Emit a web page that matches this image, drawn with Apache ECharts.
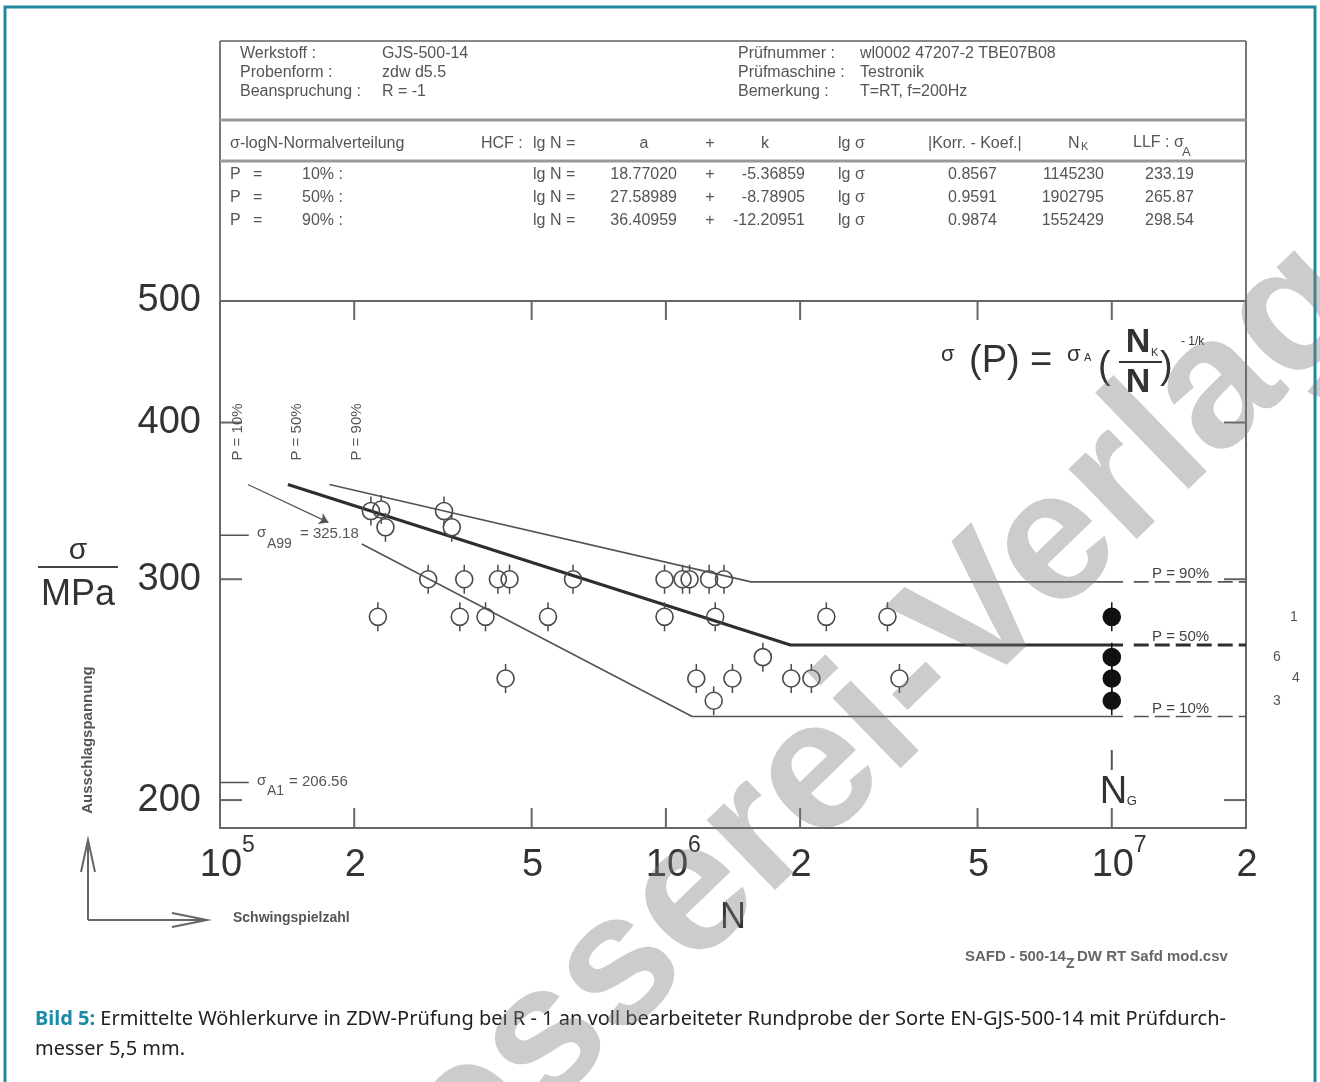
<!DOCTYPE html>
<html><head><meta charset="utf-8">
<script src="https://cdn.jsdelivr.net/npm/echarts@6/dist/echarts.min.js"></script>
<style>html,body{margin:0;padding:0;background:#fff}#c{width:1320px;height:1082px}</style>
</head><body><div id="c"></div>
<script>
// ---------------- DATA ----------------
const xMin = 1e5, xMax = 2e7;
const yMin = 190, yMax = 500;
const xTickValues = [1e5, 2e5, 5e5, 1e6, 2e6, 5e6, 1e7, 2e7];
const xTickMantissa = ['10', '2', '5', '10', '2', '5', '10', '2'];
const xTickExponent = ['5', '', '', '6', '', '', '7', ''];
const yTickValues = [200, 300, 400, 500];

// fatigue failures (N, stress amplitude MPa)
const failN = [2.18e5, 2.30e5, 3.18e5, 2.35e5, 3.31e5,
  2.93e5, 3.53e5, 4.20e5, 4.46e5, 6.19e5, 9.93e5, 1.09e6, 1.13e6, 1.25e6, 1.35e6,
  2.26e5, 3.45e5, 3.94e5, 5.44e5, 9.93e5, 1.29e6, 2.29e6, 3.14e6,
  1.65e6,
  4.37e5, 1.17e6, 1.41e6, 1.91e6, 2.12e6, 3.34e6,
  1.28e6];
const failS = [340, 341, 340, 330, 330,
  300, 300, 300, 300, 300, 300, 300, 300, 300, 300,
  280, 280, 280, 280, 280, 280, 280, 280,
  260,
  250, 250, 250, 250, 250, 250,
  240];
// run-outs at N_G
const runoutN = [1e7, 1e7, 1e7, 1e7];
const runoutS = [280, 260, 250, 240];
const runoutCounts = ['1', '6', '4', '3'];

// probability lines (table)
const pLevels = ['10%', '50%', '90%'];
const coefA = [18.77020, 27.58989, 36.40959];
const coefK = [-5.36859, -8.78905, -12.20951];
const corrCoef = [0.8567, 0.9591, 0.9874];
const kneeN = [1145230, 1902795, 1552429];
const sigmaA = [233.19, 265.87, 298.54];
const startN = [2.08e5, 1.42e5, 1.76e5];
const startS = [320, 357, 357];
const solidEndN = 1.06e7;
const dashStartN = 1.12e7;

const sigmaA99 = 325.18, sigmaA1 = 206.56;
const annotTickEndN = 1.16e5;
const arrowFrom = [1.155e5, 357];
const arrowTo = [1.75e5, 333];

// header texts
const headLeftLabels = ['Werkstoff :', 'Probenform :', 'Beanspruchung :'];
const headLeftValues = ['GJS-500-14', 'zdw d5.5', 'R = -1'];
const headRightLabels = ['Prüfnummer :', 'Prüfmaschine :', 'Bemerkung :'];
const headRightValues = ['wl0002 47207-2 TBE07B08', 'Testronik', 'T=RT, f=200Hz'];

// ---------------- CHART ----------------
const chart = echarts.init(document.getElementById('c'), null, {renderer: 'canvas'});
const FONT = '"Liberation Sans", Arial, sans-serif';
const f = (s, w) => `${w || 'normal'} ${s}px ${FONT}`;

function marker(filled) {
  return function (params, api) {
    const p = api.coord([api.value(0), api.value(1)]);
    const r = 8.5, col = filled ? '#111' : '#4a4a4a';
    return {type: 'group', children: [
      {type: 'line', shape: {x1: p[0], y1: p[1] - r - 6, x2: p[0], y2: p[1] - r}, style: {stroke: col, lineWidth: 1.5}},
      {type: 'line', shape: {x1: p[0], y1: p[1] + r, x2: p[0], y2: p[1] + r + 6}, style: {stroke: col, lineWidth: 1.5}},
      {type: 'circle', shape: {cx: p[0], cy: p[1], r: r}, style: {fill: filled ? '#111' : 'rgba(255,255,255,0)', stroke: col, lineWidth: 1.6}}
    ]};
  };
}

const series = [];
pLevels.forEach((p, i) => {
  const col = i === 1 ? '#2e2e2e' : '#555';
  const w = i === 1 ? 3.2 : 1.6;
  series.push({type: 'line', silent: true, symbol: 'none', z: 3,
    data: [[startN[i], startS[i]], [kneeN[i], sigmaA[i]], [solidEndN, sigmaA[i]]],
    lineStyle: {color: col, width: w}});
  series.push({type: 'line', silent: true, symbol: 'none', z: 3,
    data: [[dashStartN, sigmaA[i]], [xMax, sigmaA[i]]],
    lineStyle: {color: col, width: w, type: [15, 6]}});
});
series.push({type: 'line', silent: true, symbol: 'none', data: [[xMin, sigmaA99], [annotTickEndN, sigmaA99]], lineStyle: {color: '#555', width: 1.5}});
series.push({type: 'line', silent: true, symbol: 'none', data: [[xMin, sigmaA1], [annotTickEndN, sigmaA1]], lineStyle: {color: '#555', width: 1.5}});
series.push({type: 'lines', coordinateSystem: 'cartesian2d', silent: true, symbol: ['none', 'arrow'], symbolSize: 9,
  data: [{coords: [arrowFrom, arrowTo]}], lineStyle: {color: '#555', width: 1.3, opacity: 1}});
series.push({type: 'custom', coordinateSystem: 'cartesian2d', silent: true, z: 5,
  data: failN.map((n, i) => [n, failS[i]]), encode: {x: 0, y: 1}, renderItem: marker(false)});
series.push({type: 'custom', coordinateSystem: 'cartesian2d', silent: true, z: 5,
  data: runoutN.map((n, i) => [n, runoutS[i]]), encode: {x: 0, y: 1}, renderItem: marker(true)});

const hidden = {axisLine: {show: false}, axisTick: {show: false}, axisLabel: {show: false}, splitLine: {show: false}};
chart.setOption({
  animation: false,
  backgroundColor: '#fff',
  grid: {left: 220, top: 301, right: 74, bottom: 254, show: true, borderColor: '#666', borderWidth: 2, backgroundColor: 'rgba(0,0,0,0)'},
  xAxis: Object.assign({type: 'log', logBase: 10, min: xMin, max: xMax}, hidden),
  yAxis: Object.assign({type: 'log', logBase: 10, min: yMin, max: yMax}, hidden),
  series: series
});

// ---------------- GRAPHICS (positions through the axes) ----------------
const P = (x, y) => chart.convertToPixel({gridIndex: 0}, [x, y]);
const L = 220, R = 1246, TOP = P(xMin, yMax)[1], BOT = P(xMin, yMin)[1];
const g = [];
function T(x, y, text, o) {
  o = o || {};
  g.push({type: 'text', x: x, y: y, rotation: o.rot || 0, z: o.z || 50, silent: true,
    style: {text: text, fill: o.c || '#555', font: o.font || f(16), align: o.a || 'left', verticalAlign: o.v || 'middle'}});
}
function Ln(x1, y1, x2, y2, c, w) {
  g.push({type: 'line', silent: true, z: 40, shape: {x1, y1, x2, y2}, style: {stroke: c || '#666', lineWidth: w || 2}});
}
function Poly(pts, c, w) {
  g.push({type: 'polyline', silent: true, z: 40, shape: {points: pts}, style: {stroke: c || '#666', lineWidth: w || 2, fill: null}});
}

// outer teal frame
g.push({type: 'rect', silent: true, z: 1, shape: {x: 5, y: 7, width: 1310, height: 1095}, style: {fill: 'none', stroke: '#2089a1', lineWidth: 3}});

// header box
Ln(L, 41, R, 41, '#888', 2);
Ln(L, 41, L, TOP, '#777', 2);
Ln(R, 41, R, TOP, '#777', 2);
Ln(L, 120, R, 120, '#999', 3);
Ln(L, 161, R, 161, '#999', 3);
const rowY = [54, 73, 92];
rowY.forEach((y, i) => {
  T(240, y, headLeftLabels[i]); T(382, y, headLeftValues[i]);
  T(738, y, headRightLabels[i]); T(860, y, headRightValues[i]);
});
T(230, 144, 'σ-logN-Normalverteilung');
T(481, 144, 'HCF :'); T(533, 144, 'lg N =');
T(644, 144, 'a', {a: 'center'}); T(710, 144, '+', {a: 'center'}); T(765, 144, 'k', {a: 'center'});
T(838, 144, 'lg σ'); T(928, 144, '|Korr. - Koef.|');
T(1068, 144, 'N'); T(1081, 147, 'K', {font: f(11)});
T(1133, 143, 'LLF : σ'); T(1182, 152, 'A', {font: f(13)});
const tRowY = [175, 198, 221];
pLevels.forEach((p, i) => {
  const y = tRowY[i];
  T(230, y, 'P'); T(253, y, '='); T(302, y, p + ' :');
  T(533, y, 'lg N =');
  T(677, y, coefA[i].toFixed(5), {a: 'right'});
  T(710, y, '+', {a: 'center'});
  T(805, y, coefK[i].toFixed(5), {a: 'right'});
  T(838, y, 'lg σ');
  T(997, y, corrCoef[i].toFixed(4), {a: 'right'});
  T(1104, y, String(kneeN[i]), {a: 'right'});
  T(1194, y, sigmaA[i].toFixed(2), {a: 'right'});
});

// axis ticks
yTickValues.forEach(v => {
  const py = P(xMin, v)[1];
  T(201, py, String(v), {a: 'right', c: '#333', font: f(38)});
  if (v < yMax) { Ln(L, py, L + 22, py, '#666', 2); Ln(R, py, R - 22, py, '#666', 2); }
});
xTickValues.forEach((v, i) => {
  const px = P(v, yMin)[0];
  T(px + 1, 866, xTickMantissa[i], {a: 'center', c: '#333', font: f(38)});
  if (xTickExponent[i]) T(px + 22, 846, xTickExponent[i], {c: '#333', font: f(23)});
  if (v > xMin && v < xMax) { Ln(px, TOP, px, TOP + 19, '#666', 2); Ln(px, BOT, px, BOT - 20, '#666', 2); }
});

// sigma annotations
const yA99 = P(xMin, sigmaA99)[1], yA1 = P(xMin, sigmaA1)[1];
T(257, yA99 - 2, 'σ', {font: f(15)}); T(267, yA99 + 9, 'A99', {font: f(14)}); T(300, yA99 - 1, '= 325.18', {font: f(15)});
T(257, yA1 - 2, 'σ', {font: f(15)}); T(267, yA1 + 9, 'A1', {font: f(14)}); T(289, yA1 - 1, '= 206.56', {font: f(15)});

// rotated P labels near start
const rotX = [238, 297, 357];
pLevels.forEach((p, i) => T(rotX[i], 432, 'P = ' + p, {a: 'center', rot: Math.PI / 2, font: f(15)}));
// right-hand P labels
pLevels.forEach((p, i) => {
  const py = P(xMax, sigmaA[i])[1];
  T(1152, py - 8, 'P = ' + p, {font: f(15), c: '#444'});
});
// run-out counts
const cntX = [1290, 1273, 1292, 1273];
runoutS.forEach((s, i) => T(cntX[i], P(xMax, s)[1], runoutCounts[i], {font: f(14), c: '#555'}));

// N_G
const xG = P(1e7, yMin)[0];
Ln(xG, 750, xG, 770, '#555', 2);
T(xG - 12, 793, 'N', {font: f(38), c: '#333'});
T(xG + 15, 801, 'G', {font: f(13), c: '#333'});

// formula
T(941, 355, 'σ', {font: f(22), c: '#333'});
T(969, 362, '(P)', {font: f(38), c: '#333'});
T(1030, 362, '=', {font: f(38), c: '#333'});
T(1067, 355, 'σ', {font: f(22), c: '#333'});
T(1084, 358, 'A', {font: f(11), c: '#333'});
T(1098, 368, '(', {font: f(38), c: '#333'});
T(1138, 343, 'N', {a: 'center', font: f(34, 'bold'), c: '#333'});
T(1151, 353, 'K', {font: f(11), c: '#333'});
Ln(1119, 362, 1162, 362, '#333', 2);
T(1138, 383, 'N', {a: 'center', font: f(34, 'bold'), c: '#333'});
T(1160, 368, ')', {font: f(38), c: '#333'});
T(1181, 342, '- 1/k', {font: f(12), c: '#333'});

// y title
T(78, 551, 'σ', {a: 'center', font: f(30), c: '#333'});
Ln(38, 567, 118, 567, '#444', 2);
T(78, 595, 'MPa', {a: 'center', font: f(36), c: '#333'});
T(88, 740, 'Ausschlagspannung', {a: 'center', rot: Math.PI / 2, font: f(15, 'bold'), c: '#555'});
// corner arrows
Ln(88, 920, 88, 840, '#666', 2);
Poly([[81, 872], [88, 840], [95, 872]], '#666', 2);
Ln(88, 920, 206, 920, '#666', 2);
Poly([[172, 913], [207, 920], [172, 927]], '#666', 2);
T(233, 918, 'Schwingspielzahl', {font: f(14, 'bold'), c: '#555'});
T(733, 918, 'N', {a: 'center', font: f(36), c: '#333'});
T(965, 957, 'SAFD - 500-14', {font: f(15, 'bold'), c: '#666'});
T(1066, 964, 'Z', {font: f(14, 'bold'), c: '#666'});
T(1077, 957, 'DW RT Safd mod.csv', {font: f(15, 'bold'), c: '#666'});

// caption
g.push({type: 'text', x: 35, y: 1019, z: 50, silent: true, style: {
  text: '{b|Bild 5:}{t| Ermittelte Wöhlerkurve in ZDW-Prüfung bei R - 1 an voll bearbeiteter Rundprobe der Sorte EN-GJS-500-14 mit Prüfdurch-}',
  verticalAlign: 'middle', align: 'left',
  rich: {b: {font: `bold 20px "Noto Sans", sans-serif`, fill: '#1b8ba6'}, t: {font: `normal 20px "Noto Sans", sans-serif`, fill: '#222'}}}});
T(35, 1049, 'messer 5,5 mm.', {font: 'normal 20px "Noto Sans", sans-serif', c: '#222'});

// watermark
g.push({type: 'text', x: 815, y: 780, rotation: 0.77, z: 100, silent: true, style: {
  text: 'Giesserei-Verlag', font: `bold 185px ${FONT}`, fill: 'rgba(120,120,120,0.38)', align: 'center', verticalAlign: 'middle'}});

chart.setOption({graphic: g});
</script></body></html>
